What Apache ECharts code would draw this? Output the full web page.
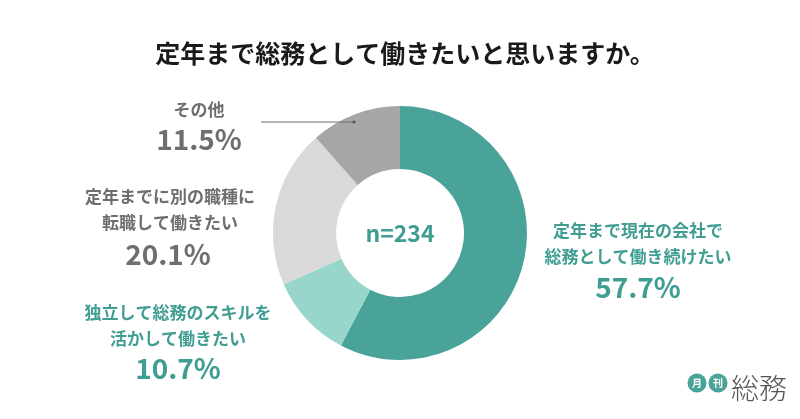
<!DOCTYPE html>
<html><head><meta charset="utf-8">
<script src="https://cdn.jsdelivr.net/npm/echarts@6/dist/echarts.min.js"></script>
<style>html,body{margin:0;padding:0;background:#fff}#c{width:800px;height:419px}</style></head>
<body><div id="c"></div>
<script>
const titleText = '定年まで総務として働きたいと思いますか。';
const sampleText = 'n=234';
const categories = ['定年まで現在の会社で\n総務として働き続けたい','独立して総務のスキルを\n活かして働きたい','定年までに別の職種に\n転職して働きたい','その他'];
const values = [57.7,10.7,20.1,11.5];
const colors = ['#4aa399','#98d6cb','#d9d9d9','#a6a6a6'];
const labelColors = ['#3f9d92','#3f9d92','#6e6e6e','#6e6e6e'];
const F = '"Noto Sans CJK JP"';
const labelPos = [[638,244],[178,326],[170,210],[199,110]];
const pctPos = [[638,287],[178,368],[168,254],[199,139]];
const g = [];
function add(o){ o.z=100; g.push(o); }
function txt(x,y,t,size,color,weight,lh){
  add({type:'text',x,y,style:{text:t,font:`${weight} ${size}px ${F}`,fill:color,align:'center',verticalAlign:'middle',lineHeight:lh||size*1.3}});
}
txt(405,53,titleText,25,'#1a1a1a',700);
txt(400,233,sampleText,23,'#3f9d92',700);
categories.forEach((c,i)=>{
  txt(labelPos[i][0],labelPos[i][1],c,17,labelColors[i],700,26);
  txt(pctPos[i][0],pctPos[i][1],values[i].toFixed(1)+'%',28,labelColors[i],700);
});
add({type:'line',shape:{x1:261,y1:122,x2:354,y2:122},style:{stroke:'#6e6e6e',lineWidth:1}});
add({type:'circle',shape:{cx:354,cy:122,r:1.6},style:{fill:'#555'}});
add({type:'circle',shape:{cx:697,cy:383,r:9.5},style:{fill:'#4aa399'}});
add({type:'circle',shape:{cx:718,cy:383,r:9.5},style:{fill:'#4aa399'}});
add({type:'text',x:697,y:383,style:{text:'月',font:`700 10px ${F}`,fill:'#fff',align:'center',verticalAlign:'middle'}});
add({type:'text',x:718,y:383,style:{text:'刊',font:`700 10px ${F}`,fill:'#fff',align:'center',verticalAlign:'middle'}});
add({type:'text',x:759,y:388,style:{text:'総務',font:`300 28px ${F}`,fill:'#555',align:'center',verticalAlign:'middle'}});
const chart = echarts.init(document.getElementById('c'),null,{renderer:'canvas'});
chart.setOption({
  animation:false,
  backgroundColor:'#fff',
  graphic:g,
  series:[{
    type:'pie',center:[400,233],radius:[64,127],startAngle:90,clockwise:true,
    label:{show:false},labelLine:{show:false},silent:true,
    data:categories.map((c,i)=>({name:c,value:values[i],itemStyle:{color:colors[i]}}))
  }]
});
</script></body></html>
